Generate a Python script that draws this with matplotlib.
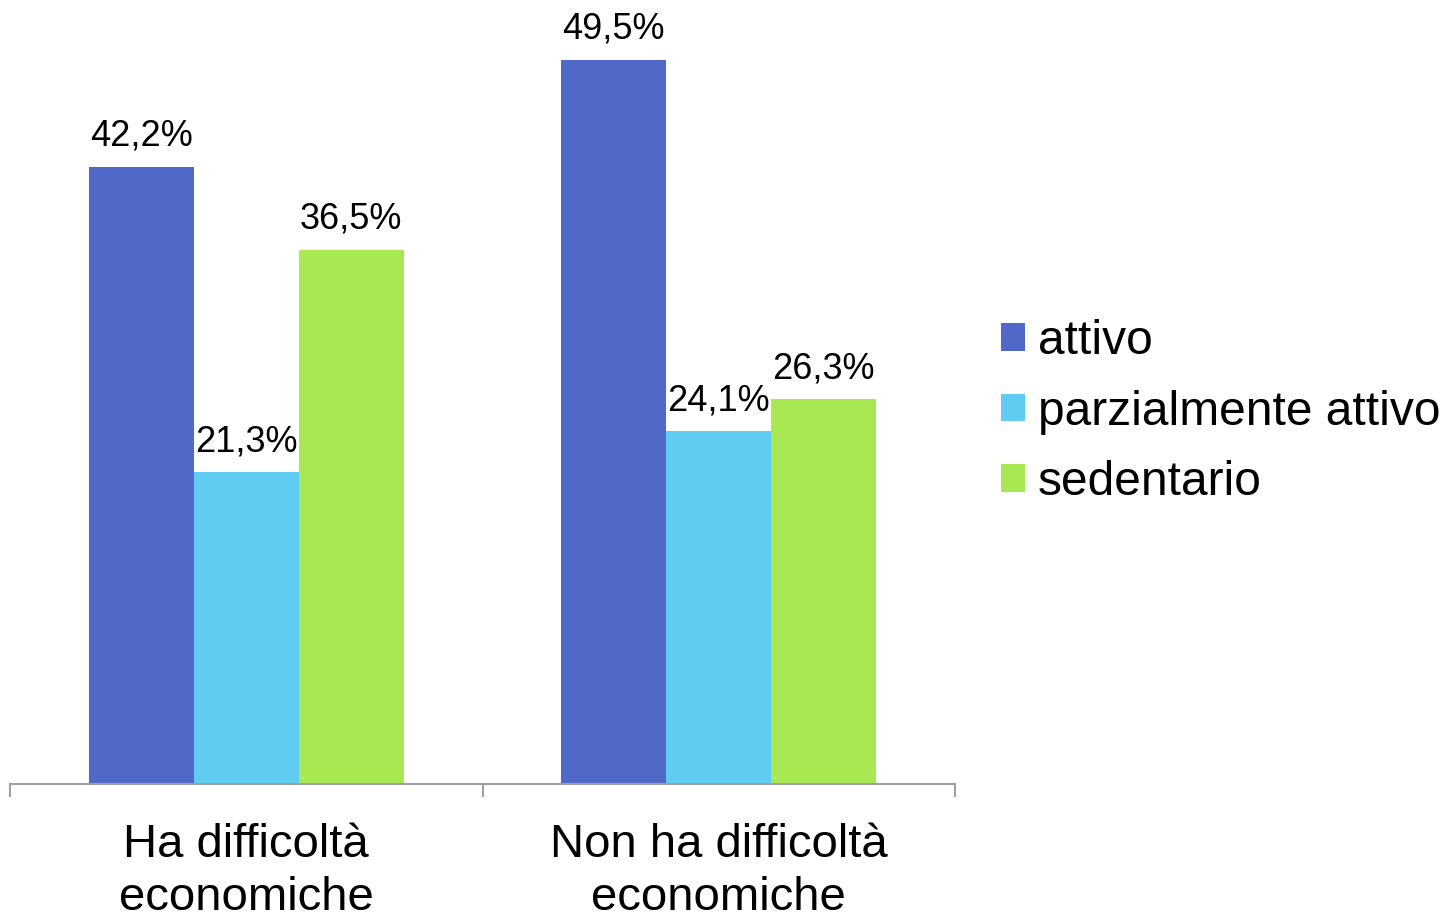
import numpy as np
import matplotlib
matplotlib.use("Agg")
import matplotlib.pyplot as plt

plt.rcParams['font.family'] = ['Liberation Sans', 'DejaVu Sans']

categories = ["Ha difficoltà\neconomiche", "Non ha difficoltà\neconomiche"]
series_names = ["attivo", "parzialmente attivo", "sedentario"]
attivo = [42.2, 49.5]
parziale = [21.3, 24.1]
sedentario = [36.5, 26.3]
colors = ["#5068C8", "#60CCF2", "#A8E852"]

fig = plt.figure(figsize=(14.45, 9.18), dpi=100)
ax = fig.add_axes([10 / 1445, 134 / 918, 945 / 1445, 784 / 918])

x = np.arange(len(categories))
w = 105 / 472.5
handles = []
for i, (vals, name) in enumerate(zip([attivo, parziale, sedentario], series_names)):
    bars = ax.bar(x + (i - 1) * w, vals, width=w, color=colors[i], label=name)
    handles.append(bars)
    for xi, v in zip(x, vals):
        ax.text(xi + (i - 1) * w, v + 0.9, f"{v:.1f}%".replace(".", ","),
                ha="center", va="bottom", fontsize=26)

ax.set_xlim(-0.5, 1.5)
ax.set_ylim(0, 53.6)
for s in ["top", "right", "left"]:
    ax.spines[s].set_visible(False)
ax.spines["bottom"].set_color("#a0a0a0")
ax.spines["bottom"].set_linewidth(1.5)
ax.set_yticks([])
ax.set_xticks(x)
ax.set_xticklabels(categories, fontsize=34, linespacing=1.28)
ax.tick_params(axis="x", which="major", length=0, pad=28)
ax.set_xticks([-0.5, 0.5, 1.5], minor=True)
ax.tick_params(axis="x", which="minor", length=9, width=1.5, color="#a0a0a0")

fig.legend(handles=handles, labels=series_names, loc="center left",
           bbox_to_anchor=(1001 / 1445, 1 - 412 / 918), frameon=False,
           fontsize=34.5, handlelength=0.5, handleheight=0.5,
           handletextpad=0.27, labelspacing=0.53, borderpad=0, borderaxespad=0)

fig.savefig("out.png", dpi=100)
